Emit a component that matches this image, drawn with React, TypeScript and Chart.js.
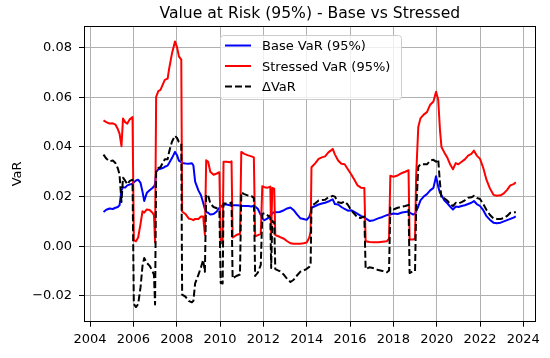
import React, { useEffect, useRef } from "react";
import { Chart, registerables } from "chart.js";

Chart.register(...registerables);

const dates = [
  2004.62, 2004.75, 2004.9, 2005.05, 2005.17, 2005.28, 2005.36, 2005.45, 2005.52, 2005.62,
  2005.72, 2005.82, 2005.96, 2006.02, 2006.12, 2006.22, 2006.33, 2006.42, 2006.5, 2006.62,
  2006.75, 2006.88, 2006.95, 2007.0, 2007.05, 2007.15, 2007.25, 2007.35, 2007.45, 2007.58,
  2007.65, 2007.78, 2007.92, 2008.02, 2008.1, 2008.21, 2008.25, 2008.4, 2008.55, 2008.7,
  2008.77, 2008.85, 2009.0, 2009.12, 2009.22, 2009.3, 2009.36, 2009.45, 2009.55, 2009.7,
  2009.85, 2009.97, 2010.03, 2010.12, 2010.16, 2010.3, 2010.45, 2010.53, 2010.58, 2010.75,
  2010.92, 2010.98, 2011.12, 2011.3, 2011.45, 2011.56, 2011.62, 2011.75, 2011.88, 2011.95,
  2012.05, 2012.2, 2012.32, 2012.36, 2012.41, 2012.5, 2012.55, 2012.75, 2012.95, 2013.1,
  2013.25, 2013.4, 2013.55, 2013.7, 2013.85, 2014.0, 2014.12, 2014.18, 2014.22, 2014.4,
  2014.55, 2014.7, 2014.85, 2015.0, 2015.12, 2015.2, 2015.3, 2015.45, 2015.6, 2015.75,
  2015.9, 2016.05, 2016.2, 2016.35, 2016.5, 2016.66, 2016.72, 2016.9, 2017.1, 2017.3,
  2017.5, 2017.7, 2017.8, 2017.86, 2018.0, 2018.2, 2018.4, 2018.55, 2018.7, 2018.75,
  2018.9, 2019.0, 2019.05, 2019.15, 2019.25, 2019.4, 2019.55, 2019.7, 2019.85, 2019.97,
  2020.07, 2020.15, 2020.22, 2020.35, 2020.5, 2020.62, 2020.75, 2020.88, 2021.0, 2021.15,
  2021.3, 2021.45, 2021.6, 2021.72, 2021.85, 2022.0, 2022.15, 2022.3, 2022.45, 2022.62,
  2022.78, 2022.95, 2023.1, 2023.25, 2023.4, 2023.55, 2023.65,
];

const baseVar = [
  0.0138, 0.0147, 0.0152, 0.015, 0.0155, 0.0158, 0.0165, 0.0225, 0.0238, 0.0236,
  0.0245, 0.0248, 0.0252, 0.0258, 0.0265, 0.0268, 0.0255, 0.022, 0.0182, 0.0215,
  0.0225, 0.0235, 0.024, 0.025, 0.03, 0.031, 0.0312, 0.0315, 0.032, 0.0325,
  0.0335, 0.0355, 0.038, 0.0365, 0.0345, 0.0338, 0.0335, 0.0333, 0.0332, 0.0334,
  0.0325, 0.026, 0.0225, 0.0205, 0.0175, 0.015, 0.0138, 0.0135, 0.0128, 0.013,
  0.014, 0.0155, 0.0158, 0.0165, 0.0168, 0.0168, 0.0165, 0.0165, 0.0165, 0.0165,
  0.0164, 0.0163, 0.0162, 0.0162, 0.016, 0.0163, 0.016, 0.015, 0.0125, 0.0112,
  0.0105, 0.0112, 0.0125, 0.0128, 0.0132, 0.0137, 0.0137, 0.0138, 0.0145, 0.0152,
  0.0156, 0.0145, 0.0128, 0.0113, 0.011, 0.0106, 0.0118, 0.0135, 0.0155, 0.0162,
  0.0168, 0.0172, 0.0175, 0.018, 0.0186, 0.0189, 0.017, 0.0168, 0.0158, 0.015,
  0.0143, 0.0145, 0.0138, 0.013, 0.0122, 0.0115, 0.0112, 0.0102, 0.0105, 0.0112,
  0.0118, 0.0125, 0.0128, 0.0128, 0.0132, 0.013, 0.0136, 0.0138, 0.014, 0.0135,
  0.0128, 0.013, 0.014, 0.016, 0.0185, 0.02, 0.021, 0.0225, 0.0235, 0.0282,
  0.024, 0.0215, 0.0205, 0.0185, 0.0172, 0.016, 0.0148, 0.016, 0.0158, 0.0162,
  0.0165, 0.017, 0.0175, 0.0182, 0.017, 0.0162, 0.0145, 0.0121, 0.0107, 0.0095,
  0.0093, 0.0095, 0.01, 0.0105, 0.011, 0.0115, 0.012,
];

const stressedVar = [
  0.0507, 0.05, 0.0494, 0.0495, 0.049, 0.0472, 0.0454, 0.0403, 0.0514, 0.05,
  0.0494, 0.051, 0.052, 0.0025, 0.002, 0.0035, 0.009, 0.0141, 0.0135, 0.0148,
  0.0146, 0.0135, 0.0125, 0.0015, 0.0602, 0.0625, 0.063, 0.065, 0.067, 0.0675,
  0.0715, 0.0776, 0.0825, 0.08, 0.0765, 0.0752, 0.014, 0.013, 0.0112, 0.0108,
  0.0105, 0.011, 0.011, 0.012, 0.012, 0.0047, 0.0346, 0.034, 0.03, 0.0288,
  0.0293, 0.0298, 0.001, 0.0015, 0.034, 0.034, 0.0338, 0.0342, 0.0035, 0.0045,
  0.005, 0.038, 0.0372, 0.0366, 0.0362, 0.0358, 0.004, 0.0045, 0.005, 0.0242,
  0.0238, 0.0236, 0.024, 0.004, 0.0235, 0.0232, 0.0045, 0.0038, 0.003, 0.002,
  0.0012, 0.001, 0.001, 0.001, 0.0012, 0.0015, 0.0035, 0.006, 0.0318, 0.0335,
  0.0352, 0.0358, 0.0362, 0.0378, 0.0386, 0.0392, 0.037, 0.0345, 0.0332, 0.033,
  0.031, 0.029, 0.0268, 0.0245, 0.0236, 0.0235, 0.002, 0.0017, 0.0016, 0.0016,
  0.0018, 0.002, 0.003, 0.0284, 0.028, 0.0285, 0.0295, 0.03, 0.0306, 0.0027,
  0.0027, 0.003, 0.028, 0.048, 0.0515, 0.053, 0.054, 0.057, 0.0583, 0.0622,
  0.059, 0.047, 0.04, 0.0378, 0.0355, 0.033, 0.031, 0.0335, 0.033, 0.034,
  0.035, 0.0365, 0.0372, 0.0385, 0.0365, 0.0352, 0.0315, 0.0267, 0.0234, 0.0207,
  0.0203, 0.0205, 0.0213, 0.0227, 0.0245, 0.025, 0.0258,
];

const deltaVar = [
  0.0369, 0.0353, 0.0342, 0.0345, 0.0335, 0.0314, 0.0289, 0.0178, 0.0276, 0.0264,
  0.0249, 0.0262, 0.0268, -0.0233, -0.0245, -0.0233, -0.0165, -0.0079, -0.0047, -0.0067,
  -0.0079, -0.01, -0.0115, -0.0235, 0.0302, 0.0315, 0.0318, 0.0335, 0.035, 0.035,
  0.038, 0.0421, 0.0445, 0.0435, 0.042, 0.0414, -0.0195, -0.0203, -0.022, -0.0226,
  -0.022, -0.015, -0.0115, -0.0085, -0.0055, -0.0103, 0.0208, 0.0205, 0.0172, 0.0158,
  0.0153, 0.0143, -0.0148, -0.015, 0.0172, 0.0172, 0.0173, 0.0177, -0.013, -0.012,
  -0.0114, 0.0217, 0.021, 0.0204, 0.0202, 0.0195, -0.012, -0.0105, -0.0075, 0.013,
  0.0133, 0.0124, 0.0115, -0.0088, 0.0103, 0.0095, -0.0092, -0.01, -0.0115, -0.0132,
  -0.0144, -0.0135, -0.0118, -0.0103, -0.0098, -0.0091, -0.0083, -0.0075, 0.0163, 0.0173,
  0.0184, 0.0186, 0.0187, 0.0198, 0.02, 0.0203, 0.02, 0.0177, 0.0174, 0.018,
  0.0167, 0.0145, 0.013, 0.0115, 0.0114, 0.012, -0.0092, -0.0085, -0.0089, -0.0096,
  -0.01, -0.0105, -0.0098, 0.0156, 0.0148, 0.0155, 0.0159, 0.0162, 0.0166, -0.0108,
  -0.0101, -0.01, 0.014, 0.032, 0.033, 0.033, 0.033, 0.0345, 0.0348, 0.034,
  0.035, 0.0255, 0.0195, 0.0193, 0.0183, 0.017, 0.0162, 0.0175, 0.0172, 0.0178,
  0.0185, 0.0195, 0.0197, 0.0203, 0.0195, 0.019, 0.017, 0.0146, 0.0127, 0.0112,
  0.011, 0.011, 0.0113, 0.0122, 0.0135, 0.0135, 0.0138,
];

const xTicks = [2004, 2006, 2008, 2010, 2012, 2014, 2016, 2018, 2020, 2022, 2024];
const yTicks = [-0.02, 0, 0.02, 0.04, 0.06, 0.08];

const FONT = '"DejaVu Sans", sans-serif';

const framePlugin = {
  id: "frame",
  afterDatasetsDraw(chart: any) {
    const { ctx, chartArea: a } = chart;
    ctx.save();
    ctx.strokeStyle = "#000";
    ctx.lineWidth = 1;
    const l = Math.round(a.left) + 0.5;
    const t = Math.round(a.top) + 0.5;
    const r = Math.round(a.right) - 0.5;
    const b = Math.round(a.bottom) - 0.5;
    ctx.strokeRect(l, t, r - l, b - t);
    ctx.restore();
  },
};

const legendPlugin = {
  id: "boxLegend",
  afterDraw(chart: any) {
    const { ctx, chartArea: a } = chart;
    const x0 = a.left + 136;
    const y0 = a.top + 9;
    const w = 181;
    const h = 64;
    ctx.save();
    ctx.beginPath();
    ctx.roundRect(x0 + 0.5, y0 + 0.5, w, h, 3);
    ctx.fillStyle = "rgba(255,255,255,0.8)";
    ctx.fill();
    ctx.strokeStyle = "#cccccc";
    ctx.lineWidth = 1;
    ctx.stroke();
    chart.data.datasets.forEach((ds: any, i: number) => {
      const y = y0 + 10.5 + i * 20.5;
      ctx.beginPath();
      ctx.strokeStyle = ds.borderColor;
      ctx.lineWidth = ds.borderWidth;
      ctx.setLineDash(ds.borderDash || []);
      ctx.moveTo(x0 + 5, y);
      ctx.lineTo(x0 + 31, y);
      ctx.stroke();
      ctx.setLineDash([]);
      ctx.fillStyle = "#000";
      ctx.font = `13px ${FONT}`;
      ctx.textBaseline = "middle";
      ctx.textAlign = "left";
      ctx.fillText(ds.label, x0 + 42, y + 1.5);
    });
    ctx.restore();
  },
};

export default function App() {
  const canvasRef = useRef<HTMLCanvasElement | null>(null);

  useEffect(() => {
    document.body.style.margin = "0";
    const canvas = canvasRef.current;
    if (!canvas) return;
    const mk = (arr: number[]) => dates.map((d, i) => ({ x: d, y: arr[i] }));
    const chart = new Chart(canvas, {
      type: "line",
      data: {
        datasets: [
          {
            label: "Base VaR (95%)",
            data: mk(baseVar),
            borderColor: "#0000ff",
            borderWidth: 2,
            pointRadius: 0,
            tension: 0,
            order: 3,
            borderJoinStyle: "round",
          },
          {
            label: "Stressed VaR (95%)",
            data: mk(stressedVar),
            borderColor: "#ff0000",
            borderWidth: 2,
            pointRadius: 0,
            tension: 0,
            order: 2,
            borderJoinStyle: "round",
          },
          {
            label: "ΔVaR",
            data: mk(deltaVar),
            borderColor: "#000000",
            borderWidth: 2,
            borderDash: [7, 3],
            pointRadius: 0,
            tension: 0,
            order: 1,
            borderJoinStyle: "round",
          },
        ],
      } as any,
      options: {
        animation: false,
        responsive: true,
        maintainAspectRatio: false,
        devicePixelRatio: 1,
        events: [],
        layout: { padding: { left: 0, right: 14.3, top: 0, bottom: 0 } },
        plugins: {
          legend: { display: false },
          tooltip: { enabled: false },
          title: {
            display: true,
            text: "Value at Risk (95%) - Base vs Stressed",
            color: "#000",
            font: { family: FONT, size: 15.6, weight: "normal" },
            padding: { top: 5, bottom: 2.3 },
            fullSize: false,
          },
        },
        scales: {
          x: {
            type: "linear",
            min: 2003.72,
            max: 2024.57,
            afterBuildTicks: (s: any) => {
              s.ticks = xTicks.map((v) => ({ value: v }));
            },
            afterFit: (s: any) => {
              s.height = 36.3;
            },
            ticks: {
              callback: (v: any) => String(v),
              color: "#000",
              font: { family: FONT, size: 13 },
              padding: 5,
              maxRotation: 0,
              autoSkip: false,
            },
            grid: {
              color: "#b0b0b0",
              lineWidth: 1,
              drawTicks: true,
              tickLength: 5,
              tickColor: "#000",
            },
            border: { display: false },
          },
          y: {
            type: "linear",
            min: -0.0304,
            max: 0.0887,
            afterBuildTicks: (s: any) => {
              s.ticks = yTicks.map((v) => ({ value: v }));
            },
            afterFit: (s: any) => {
              s.width = 84;
            },
            ticks: {
              callback: (v: any) =>
                (v < 0 ? "\u2212" : "") + Math.abs(Number(v)).toFixed(2),
              color: "#000",
              font: { family: FONT, size: 13 },
              padding: 7,
              autoSkip: false,
            },
            grid: {
              color: "#b0b0b0",
              lineWidth: 1,
              drawTicks: true,
              tickLength: 5,
              tickColor: "#000",
            },
            border: { display: false },
            title: {
              display: true,
              text: "VaR",
              color: "#000",
              font: { family: FONT, size: 13 },
              padding: { top: 10, bottom: 0 },
            },
          },
        },
      } as any,
      plugins: [framePlugin, legendPlugin],
    });
    return () => chart.destroy();
  }, []);

  return (
    <div style={{ position: "absolute", left: 0, top: 0, width: 550, height: 358 }}>
      <canvas ref={canvasRef} />
    </div>
  );
}
